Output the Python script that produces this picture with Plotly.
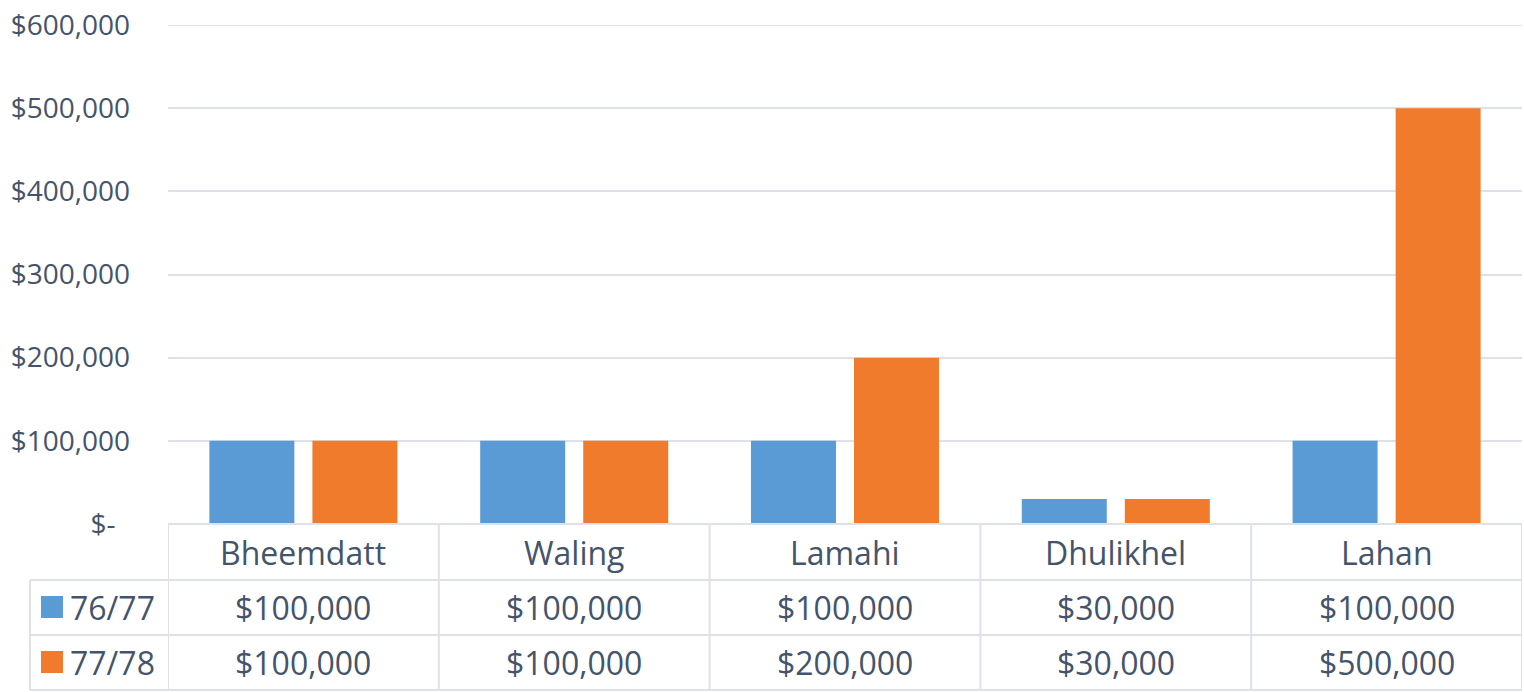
import plotly.graph_objects as go

categories = ["Bheemdatt", "Waling", "Lamahi", "Dhulikhel", "Lahan"]
series_names = ["76/77", "77/78"]
values_7677 = [100000, 100000, 100000, 30000, 100000]
values_7778 = [100000, 100000, 200000, 30000, 500000]
tick_vals = [0, 100000, 200000, 300000, 400000, 500000, 600000]
tick_text = ["$-\u00a0\u00a0", "$100,000", "$200,000", "$300,000", "$400,000", "$500,000", "$600,000"]

colors = ["#5B9BD5", "#F17B2C"]
text_color = "#44546A"
line_color = "#DEE2E8"
FONT = "Open Sans"

W, H = 1524, 692
L, R, T, B = 168, 2, 25, 168
plot_h = H - T - B
plot_w = W - L - R

def py(pix):
    return (H - B - pix) / plot_h

def px(pix):
    return (pix - L) / plot_w

fig = go.Figure()
series = [values_7677, values_7778]
for name, vals, col in zip(series_names, series, colors):
    fig.add_trace(go.Bar(x=categories, y=vals, name=name, marker=dict(color=col, line=dict(width=0)),
                         showlegend=False))

shapes = []
annotations = []
# top gridline (at range edge)
shapes.append(dict(type="line", xref="paper", yref="y", x0=0, x1=1, y0=tick_vals[-1], y1=tick_vals[-1],
                   line=dict(color=line_color, width=2), layer="below"))
shapes.append(dict(type="line", xref="paper", yref="paper", x0=0, x1=1, y0=0, y1=0,
                   line=dict(color=line_color, width=2)))
for pix in [580, 635, 690]:
    shapes.append(dict(type="line", xref="paper", yref="paper", x0=px(30), x1=1, y0=py(pix), y1=py(pix),
                       line=dict(color=line_color, width=2)))
shapes.append(dict(type="line", xref="paper", yref="paper", x0=px(30), x1=px(30), y0=py(580), y1=py(690),
                   line=dict(color=line_color, width=2)))
for i in range(len(categories) + 1):
    xv = i - 0.5
    shapes.append(dict(type="line", xref="x", yref="paper", x0=xv, x1=xv, y0=0, y1=py(690),
                       line=dict(color=line_color, width=2)))

TS = 32
row_centers = [py(607.5), py(662.5)]
for i, cat in enumerate(categories):
    annotations.append(dict(x=cat, y=py(552), xref="x", yref="paper", text=cat, showarrow=False,
                            font=dict(family=FONT, size=TS, color=text_color), xanchor="center", yanchor="middle"))
    for r, vals in enumerate(series):
        annotations.append(dict(x=cat, y=row_centers[r], xref="x", yref="paper", text=f"${vals[i]:,}",
                                showarrow=False, font=dict(family=FONT, size=TS, color=text_color),
                                xanchor="center", yanchor="middle"))
for r, (name, col) in enumerate(zip(series_names, colors)):
    yc = [607, 662][r]
    shapes.append(dict(type="rect", xref="paper", yref="paper", x0=px(41), x1=px(63),
                       y0=py(yc - 11), y1=py(yc + 11), fillcolor=col, line=dict(width=0)))
    annotations.append(dict(x=px(68), y=row_centers[r], xref="paper", yref="paper", text=name, showarrow=False,
                            font=dict(family=FONT, size=TS, color=text_color), xanchor="left", yanchor="middle"))

fig.update_layout(
    width=W, height=H,
    margin=dict(l=L, r=R, t=T, b=B),
    paper_bgcolor="white", plot_bgcolor="white",
    barmode="group", bargap=0.239, bargroupgap=0.175,
    shapes=shapes, annotations=annotations,
    xaxis=dict(range=[-0.5, 4.5], showticklabels=False, showgrid=False, zeroline=False, showline=False,
               fixedrange=True),
    yaxis=dict(range=[0, 600000], tickvals=tick_vals, ticktext=tick_text, showgrid=True,
               gridcolor=line_color, gridwidth=2, zeroline=False, showline=False,
               tickfont=dict(family=FONT, size=28, color=text_color), ticklabelstandoff=37,
               fixedrange=True),
)

fig.write_html("out.html", config={"displayModeBar": False},
               post_script="document.body.style.margin='0';document.body.style.overflow='hidden';")
